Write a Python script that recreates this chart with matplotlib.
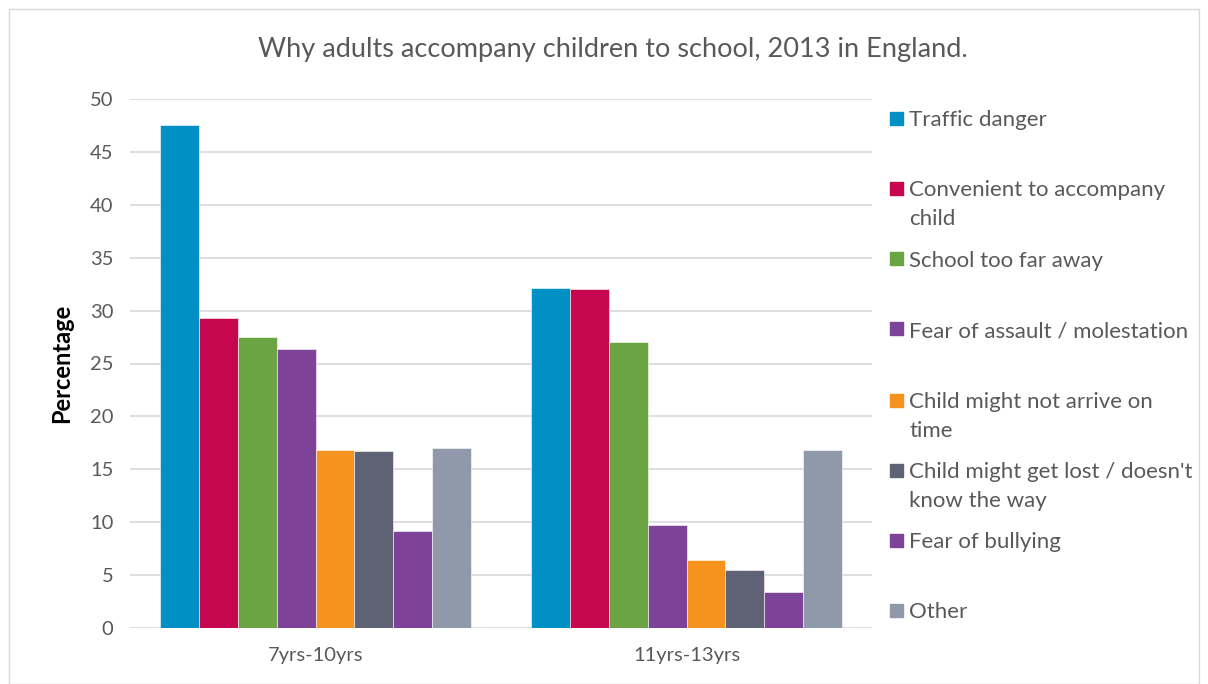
import numpy as np
import matplotlib.pyplot as plt
from matplotlib.patches import Rectangle

plt.rcParams['font.family'] = ['Lato', 'DejaVu Sans']

# Data
age_groups = ['7yrs-10yrs', '11yrs-13yrs']
reasons = ['Traffic danger', 'Convenient to accompany\nchild', 'School too far away',
           'Fear of assault / molestation', 'Child might not arrive on\ntime',
           "Child might get lost / doesn't\nknow the way", 'Fear of bullying', 'Other']
values_7_10 = [47.5, 29.3, 27.5, 26.4, 16.8, 16.7, 9.2, 17.0]
values_11_13 = [32.1, 32.0, 27.0, 9.7, 6.4, 5.5, 3.4, 16.8]
colors = ['#0090C6', '#C6064E', '#6BA543', '#7C4399', '#F6931E', '#5F6174', '#7C4399', '#8F99AA']

W, H = 1208, 684
fig = plt.figure(figsize=(W / 100, H / 100), dpi=100)
ax = fig.add_axes([130 / W, 1 - 628 / H, 742 / W, 529 / H])

x = np.arange(len(age_groups))
bar_w = 0.105
n = len(reasons)
for i in range(n):
    vals = [values_7_10[i], values_11_13[i]]
    ax.bar(x + (i - (n - 1) / 2) * bar_w, vals, width=bar_w, color=colors[i],
           edgecolor='white', linewidth=0.4, zorder=3)

ax.set_xlim(-0.5, 1.5)
ax.set_ylim(0, 50)
ax.set_yticks(range(0, 51, 5))
ax.set_xticks(x)
ax.set_xticklabels(age_groups)
ax.grid(axis='y', color='#D9D9D9', linewidth=1.2, zorder=0)
for s in ax.spines.values():
    s.set_visible(False)
ax.tick_params(length=0, labelsize=14.5, colors='#595959', pad=12)
ax.tick_params(axis='x', pad=14)
ax.set_ylabel('Percentage', fontsize=17, fontweight='bold', color='black', labelpad=12)

fig.text(613 / W, 1 - 50 / H, 'Why adults accompany children to school, 2013 in England.',
         ha='center', va='center', fontsize=19.5, color='#595959')

# legend drawn by hand so wrapped labels line up like the original
first_line_y = [118, 188, 259, 329, 400, 470, 540, 610]
line_gap = 29
for label, c, yy in zip(reasons, colors, first_line_y):
    fig.patches.append(Rectangle((890 / W, 1 - (yy + 6.5) / H), 13 / W, 13 / H,
                                 transform=fig.transFigure, color=c))
    for k, line in enumerate(label.split('\n')):
        fig.text(909 / W, 1 - (yy + 8 + k * line_gap) / H, line, ha='left', va='baseline',
                 fontsize=16, color='#595959')

# outer frame
fig.patches.append(Rectangle((9 / W, 0), 1 - 18 / W, 1 - 9 / H, transform=fig.transFigure,
                             fill=False, edgecolor='#D9D9D9', linewidth=1))

fig.savefig('out.png', dpi=100)
